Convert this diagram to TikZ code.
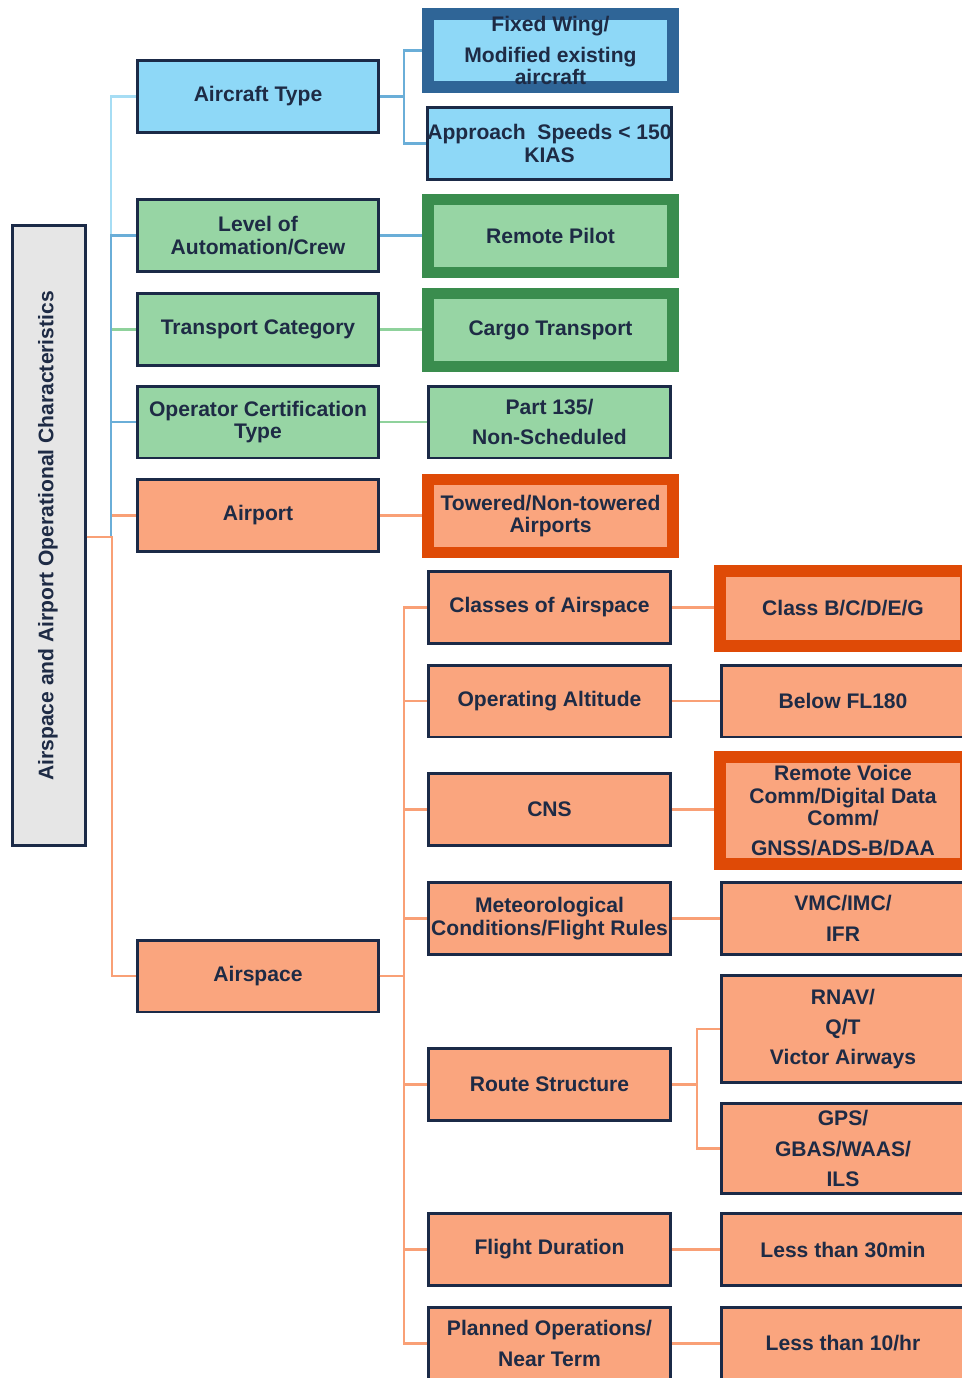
\documentclass[tikz,border=0pt]{standalone}
\usepackage{fontspec}
\setmainfont{Liberation Sans}
\definecolor{navy}{HTML}{1B2A47}
\definecolor{txt}{HTML}{1E2B45}
\definecolor{fblue}{HTML}{8ED8F7}
\definecolor{fgreen}{HTML}{97D5A4}
\definecolor{forange}{HTML}{FAA57E}
\definecolor{fgray}{HTML}{E6E6E6}
\definecolor{hblue}{HTML}{2F6597}
\definecolor{hgreen}{HTML}{3A8D4E}
\definecolor{horange}{HTML}{DF4A06}
\definecolor{lblue}{HTML}{A6DDF4}
\definecolor{mblue}{HTML}{6AAED8}
\definecolor{lgreen}{HTML}{8FD29C}
\definecolor{lorange}{HTML}{F9A076}
\begin{document}
\begin{tikzpicture}[x=0.02cm,y=-0.02cm,
  box/.style={draw=navy, line width=1.7pt, inner sep=0pt, align=center, text=txt,
    font=\fontsize{12}{12.8}\selectfont\bfseries},
  hlbox/.style={box, line width=6.8pt},
  lone/.style={box, minimum width=4.82cm, minimum height=1.44cm},
  ltwo/.style={box, minimum width=4.84cm, minimum height=1.44cm},
  ltwoh/.style={hlbox, minimum width=4.9cm, minimum height=1.46cm},
  lthree/.style={box, minimum width=4.88cm, minimum height=1.44cm},
  lthreeh/.style={hlbox, minimum width=4.92cm},
  conn/.style={line width=1.3pt},
]
\useasboundingbox (0,0) rectangle (962,1378);
\clip (0,0) rectangle (962,1378);

% root
\node[box, fill=fgray, minimum width=1.46cm, minimum height=12.4cm] (root) at (49,535.5) {};
\node[rotate=90, text=txt, font=\fontsize{12}{12.8}\selectfont\bfseries] (roottext) at (48,536) {Airspace and Airport Operational Characteristics};

% level 1
\node[lone, fill=fblue] (actype) at (258,96.5) {Aircraft Type};
\node[lone, fill=fgreen] (auto) at (258,235.5) {Level of\\Automation/Crew};
\node[lone, fill=fgreen] (transp) at (258,329.5) {Transport Category};
\node[lone, fill=fgreen] (opcert) at (258,422) {Operator Certification\\Type};
\node[lone, fill=forange] (airport) at (258,515.5) {Airport};
\node[lone, fill=forange] (airspace) at (258,976) {Airspace};

% level 2
\node[ltwoh, draw=hblue, fill=fblue] (fixed) at (550.5,50.5) {Fixed Wing/\\[5pt]Modified existing\\aircraft};
\node[ltwo, fill=fblue] (approach) at (549.5,143.5) {Approach\ \ Speeds < 150\\KIAS};
\node[ltwoh, draw=hgreen, fill=fgreen] (remote) at (550.5,236) {Remote Pilot};
\node[ltwoh, draw=hgreen, fill=fgreen] (cargo) at (550.5,330) {Cargo Transport};
\node[ltwo, fill=fgreen] (part) at (549.5,422) {Part 135/\\[4.5pt]Non-Scheduled};
\node[ltwoh, draw=horange, fill=forange] (towered) at (550.5,516) {Towered/Non-towered\\Airports};
\node[ltwo, fill=forange] (classes) at (549.5,607.5) {Classes of Airspace};
\node[ltwo, fill=forange] (opalt) at (549.5,701) {Operating Altitude};
\node[ltwo, fill=forange] (cns) at (549.5,809.5) {CNS};
\node[ltwo, fill=forange] (met) at (549.5,918.5) {Meteorological\\Conditions/Flight Rules};
\node[ltwo, fill=forange] (route) at (549.5,1084.5) {Route Structure};
\node[ltwo, fill=forange] (fdur) at (549.5,1249.5) {Flight Duration};
\node[ltwo, fill=forange] (planned) at (549.5,1343.5) {Planned Operations/\\[4.5pt]Near Term};

% level 3
\node[lthreeh, draw=horange, fill=forange, minimum height=1.5cm] (classb) at (843,608.5) {Class B/C/D/E/G};
\node[lthree, fill=forange] (below) at (843,701) {Below FL180};
\node[lthreeh, draw=horange, fill=forange, minimum height=2.14cm] (voice) at (843,810.5) {Remote Voice\\Comm/Digital Data\\Comm/\\[4pt]GNSS/ADS-B/DAA};
\node[lthree, fill=forange] (vmc) at (843,918.5) {VMC/IMC/\\[4.5pt]IFR};
\node[lthree, fill=forange, minimum height=2.14cm] (rnav) at (843,1029) {RNAV/\\[4.5pt]Q/T\\[4.5pt]Victor Airways};
\node[lthree, fill=forange, minimum height=1.8cm] (gps) at (843,1148.5) {GPS/\\[4.5pt]GBAS/WAAS/\\[4.5pt]ILS};
\node[lthree, fill=forange] (l30) at (843,1249.5) {Less than 30min};
\node[lthree, fill=forange] (l10) at (843,1343.5) {Less than 10/hr};

% root connectors
\coordinate (rj) at (root.east |- 0,537);
\draw[conn, lorange] (rj) -- (111,537) |- (airport.west);
\draw[conn, lblue] (rj) -- (111,537) |- (actype.west);
\draw[conn, lgreen] (rj) -- (111,537) |- (transp.west);
\draw[conn, mblue] (rj) -- (111,537) |- (auto.west);
\draw[conn, mblue] (rj) -- (111,537) |- (opcert.west);
\draw[conn, lorange] (rj) -- (112,537) |- (airspace.west);

% level 1 -> level 2
\draw[conn, mblue] (actype.east) -- (404,96.5) |- (fixed.west);
\draw[conn, mblue] (actype.east) -- (404,96.5) |- (approach.west);
\draw[conn, mblue] (auto.east) -- (auto.east -| remote.west);
\draw[conn, lgreen] (transp.east) -- (transp.east -| cargo.west);
\draw[conn, lgreen] (opcert.east) -- (opcert.east -| part.west);
\draw[conn, lorange] (airport.east) -- (airport.east -| towered.west);
\foreach \n in {classes,opalt,cns,met,route,fdur,planned}
  \draw[conn, lorange] (airspace.east) -- (404,976) |- (\n.west);

% level 2 -> level 3
\draw[conn, lorange] (classes.east) -- (classes.east -| classb.west);
\draw[conn, lorange] (opalt.east) -- (opalt.east -| below.west);
\draw[conn, lorange] (cns.east) -- (cns.east -| voice.west);
\draw[conn, lorange] (met.east) -- (met.east -| vmc.west);
\draw[conn, lorange] (route.east) -- (697,1084.5) |- (rnav.west);
\draw[conn, lorange] (route.east) -- (697,1084.5) |- (gps.west);
\draw[conn, lorange] (fdur.east) -- (fdur.east -| l30.west);
\draw[conn, lorange] (planned.east) -- (planned.east -| l10.west);
\end{tikzpicture}
\end{document}
